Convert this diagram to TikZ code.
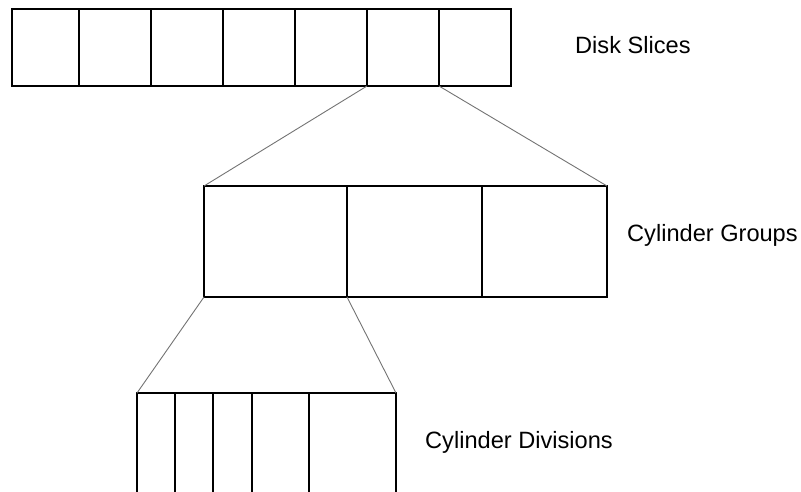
\documentclass[tikz,border=0pt]{standalone}
\usepackage{fontspec}
\setmainfont{Liberation Sans}
\usetikzlibrary{positioning}

\begin{document}
\begin{tikzpicture}[
    x=1pt, y=-1pt,
    node distance=0pt,
    cell/.style={rectangle, draw, line width=1.2pt, outer sep=0pt, inner sep=0pt},
    slice/.style={cell, minimum width=72pt, minimum height=77pt},
    group/.style={cell, minimum height=111pt},
    division/.style={cell, minimum height=130pt},
    zoomline/.style={draw=black!55, line width=0.9pt},
    label/.style={anchor=base west, inner sep=0pt, font=\fontsize{23.6}{28}\selectfont}
]
\path[use as bounding box] (0,0) rectangle (801,491);
\clip (0,0) rectangle (801,491);
% disk slices
\node[slice, minimum width=67pt, anchor=north west] (s1) at (12,9) {};
\node[slice, right=of s1] (s2) {};
\node[slice, right=of s2] (s3) {};
\node[slice, right=of s3] (s4) {};
\node[slice, right=of s4] (s5) {};
\node[slice, right=of s5] (s6) {};
\node[slice, right=of s6] (s7) {};
\node[label] (slabel) at (575,53) {Disk Slices};
% cylinder groups
\node[group, minimum width=143pt, anchor=north west] (g1) at (204,186) {};
\node[group, minimum width=135pt, right=of g1] (g2) {};
\node[group, minimum width=125pt, right=of g2] (g3) {};
\node[label] (glabel) at (627,241) {Cylinder Groups};
% cylinder divisions
\node[division, minimum width=38pt, anchor=north west] (d1) at (137,393) {};
\node[division, minimum width=38pt, right=of d1] (d2) {};
\node[division, minimum width=39pt, right=of d2] (d3) {};
\node[division, minimum width=57pt, right=of d3] (d4) {};
\node[division, minimum width=87pt, right=of d4] (d5) {};
\node[label] (dlabel) at (425,448) {Cylinder Divisions};
% zoom lines
\draw[zoomline] (s6.south west) -- (g1.north west);
\draw[zoomline] (s7.south west) -- (g3.north east);
\draw[zoomline] (g1.south west) -- (d1.north west);
\draw[zoomline] (g1.south east) -- (d5.north east);
\end{tikzpicture}
\end{document}
